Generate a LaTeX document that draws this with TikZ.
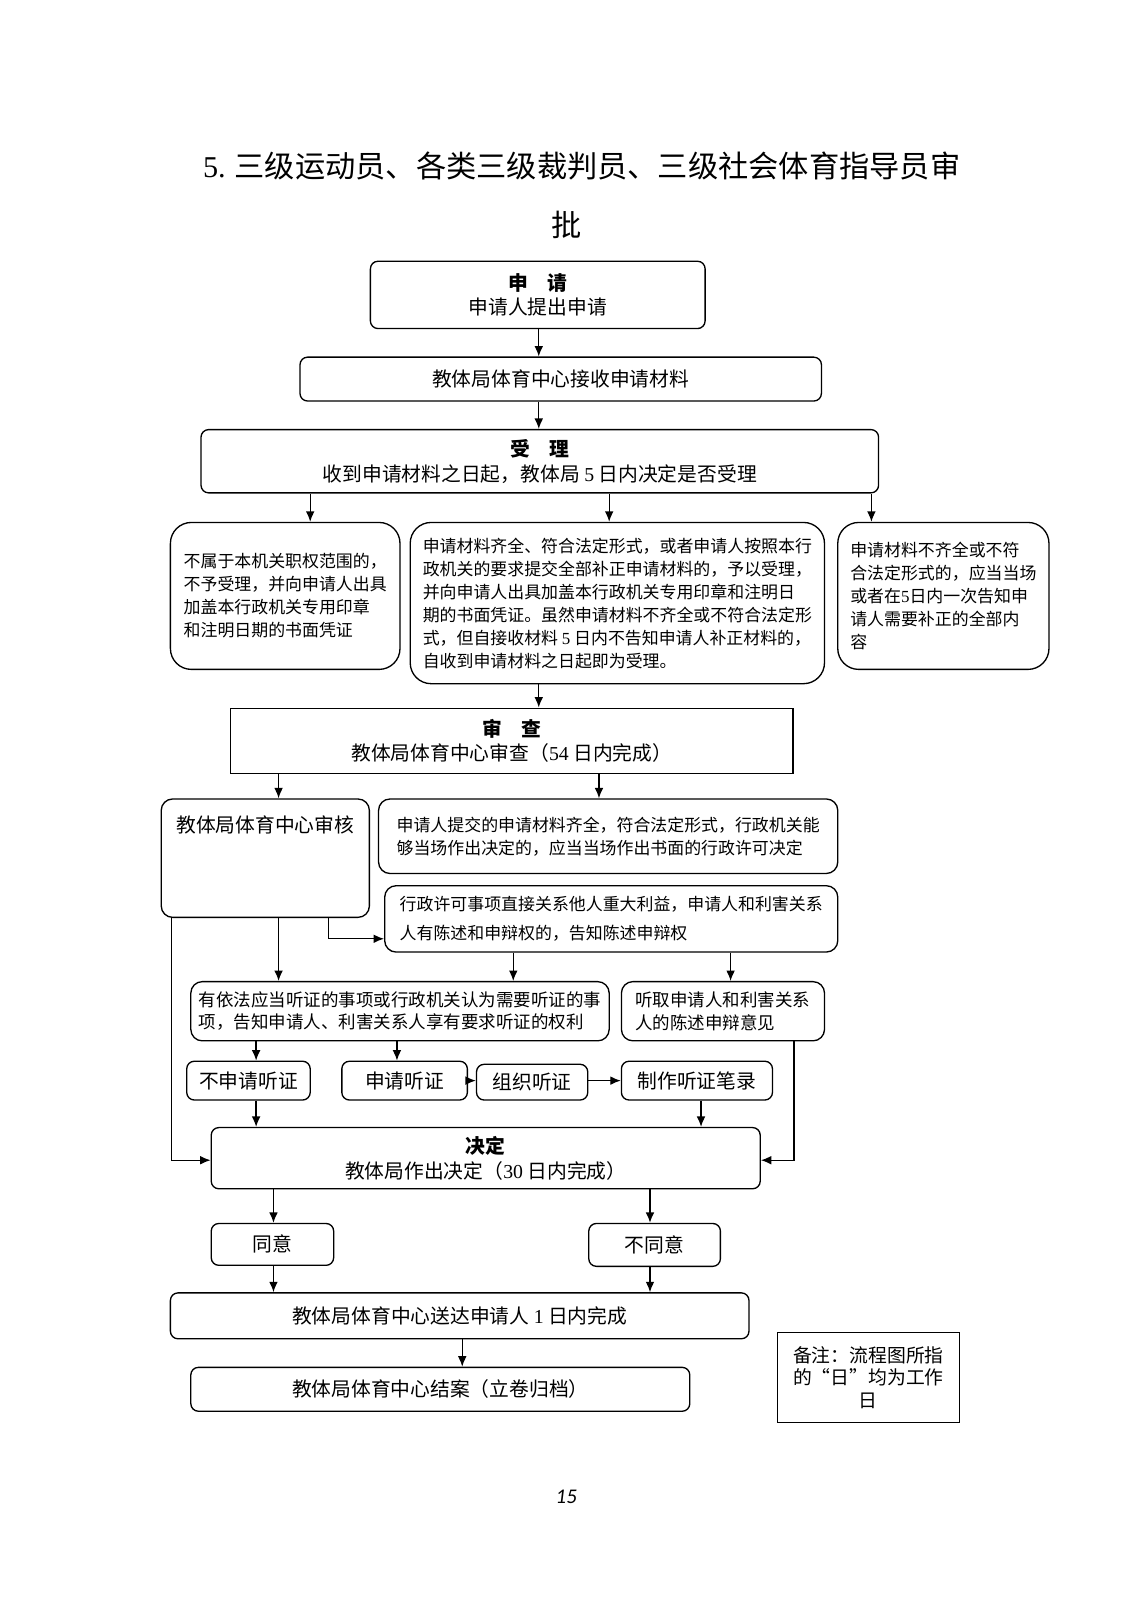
\documentclass[tikz,border=0pt]{standalone}
\usepackage{fontspec}
\setmainfont{Noto Sans CJK SC}
\newfontfamily\lat{Liberation Serif}
\newfontfamily\pgnum{Carlito}
\usetikzlibrary{arrows.meta,fit}
\newcommand{\fmain}{\fontsize{10.4}{13}\selectfont}
\newcommand{\fsmall}{\fontsize{8.9}{12.1}\selectfont}
\begin{document}
\begin{tikzpicture}[x=0.5367pt, y=-0.5367pt,
  rbox/.style = {draw, line width=0.7pt, rounded corners=4pt, inner sep=0pt},
  rbig/.style = {draw, line width=0.7pt, rounded corners=11pt, inner sep=0pt},
  sbox/.style = {draw, line width=0.7pt, inner sep=0pt},
  txt/.style = {inner sep=0pt, font=\fmain, align=center},
  stxt/.style = {inner sep=0pt, font=\fsmall, align=left},
  arr/.style = {line width=0.7pt, -{Latex[length=5.5pt,width=4.6pt]}}]
\useasboundingbox (0,0) rectangle (1108.4,1568);

% title
\node (title) at (570,163) {\fontsize{15.9}{18}\selectfont{\lat 5.} 三级运动员、各类三级裁判员、三级社会体育指导员审};
\node (title2) at (555,220) {\fontsize{15.9}{18}\selectfont 批};

% apply, receive, accept
\node[rbox, fit={(363,256) (691,322)}] (apply) {};
\node[txt] (applyt) at (apply) {{\bfseries 申　请}\\申请人提出申请};
\node[rbox, fit={(294,350) (805,393)}] (recv) {};
\node[txt] (recvt) at (recv) {教体局体育中心接收申请材料};
\node[rbox, fit={(197,421) (861,483)}] (accept) {};
\node[txt] (acceptt) at (accept) {{\bfseries 受　理}\\收到申请材料之日起，教体局 {\lat 5} 日内决定是否受理};

\node[rbig, fit={(167,512) (392,656)}] (refuse) {};
\node[stxt] (refuset) at (refuse) {不属于本机关职权范围的，\\不予受理，并向申请人出具\\加盖本行政机关专用印章\\和注明日期的书面凭证};
\node[rbig, fit={(402,512) (808,670)}] (take) {};
\node[stxt] (taket) at (take) {申请材料齐全、符合法定形式，或者申请人按照本行\\政机关的要求提交全部补正申请材料的，予以受理，\\并向申请人出具加盖本行政机关专用印章和注明日\\期的书面凭证。虽然申请材料不齐全或不符合法定形\\式，但自接收材料 {\lat 5} 日内不告知申请人补正材料的，\\自收到申请材料之日起即为受理。};
\node[rbig, fit={(821,512) (1028,656)}] (amend) {};
\node[stxt] (amendt) at (amend) {申请材料不齐全或不符\\合法定形式的，应当当场\\或者在{\lat 5}日内一次告知申\\请人需要补正的全部内\\容};

% review
\node[sbox, fit={(226,694) (777,758)}] (review) {};
\node[txt] (reviewt) at (review) {{\bfseries 审　查}\\教体局体育中心审查（{\lat 54} 日内完成）};
\node[rbox, rounded corners=6pt, fit={(158,783) (362,899)}] (check) {};
\node[txt] (checkt) at (260,808) {教体局体育中心审核};
\node[rbox, rounded corners=6pt, fit={(371,783) (821,856)}] (spot) {};
\node[stxt] (spott) at (spot) {申请人提交的申请材料齐全，符合法定形式，行政机关能\\够当场作出决定的，应当当场作出书面的行政许可决定};
\node[rbox, rounded corners=6pt, fit={(377,868) (821,933)}] (plead) {};
\node[stxt, font=\fontsize{8.9}{15.6}\selectfont] (pleadt) at (plead) {行政许可事项直接关系他人重大利益，申请人和利害关系\\人有陈述和申辩权的，告知陈述申辩权};

% hearing
\node[rbox, rounded corners=6pt, fit={(187,962) (597,1020)}] (hear) {};
\node[stxt, font=\fontsize{9.2}{11.4}\selectfont] (heart) at (hear) {有依法应当听证的事项或行政机关认为需要听证的事\\项，告知申请人、利害关系人享有要求听证的权利};
\node[rbox, rounded corners=6pt, fit={(609,962) (808,1020)}] (listen) {};
\node[stxt, font=\fontsize{9.2}{11.8}\selectfont] (listent) at (listen) {听取申请人和利害关系\\人的陈述申辩意见};
\node[rbox, fit={(183,1040) (304,1078)}] (nohear) {};
\node[txt] (noheart) at (nohear) {不申请听证};
\node[rbox, fit={(335,1040) (458,1078)}] (askhear) {};
\node[txt] (askheart) at (askhear) {申请听证};
\node[rbox, fit={(467,1043) (576,1078)}] (orghear) {};
\node[txt] (orgheart) at (orghear) {组织听证};
\node[rbox, fit={(609,1040) (757,1078)}] (record) {};
\node[txt] (recordt) at (record) {制作听证笔录};

% decision
\node[rbox, fit={(207,1105) (745,1165)}] (decide) {};
\node[txt] (decidet) at (decide) {{\bfseries 决定}\\教体局作出决定（{\lat 30} 日内完成）};
\node[rbox, fit={(207,1199) (327,1240)}] (agree) {};
\node[txt] (agreet) at (agree) {同意};
\node[rbox, fit={(577,1199) (706,1241)}] (disagree) {};
\node[txt] (disagreet) at (disagree) {不同意};
\node[rbox, fit={(167,1267) (734,1312)}] (deliver) {};
\node[txt] (delivert) at (deliver) {教体局体育中心送达申请人 {\lat 1} 日内完成};
\node[rbox, fit={(187,1340) (676,1383)}] (close) {};
\node[txt] (closet) at (close) {教体局体育中心结案（立卷归档）};
\node[sbox, fit={(762,1306) (940,1394)}] (note) {};
\node[txt, font=\fontsize{9.9}{11.9}\selectfont] (notet) at (note) {备注：流程图所指\\的“日”均为工作\\日};

\node[font=\pgnum\itshape\fontsize{11}{13}\selectfont] (page) at (555,1467) {15};

% arrows
\draw[arr] (apply.south -| 528,0) -- (recv.north -| 528,0);
\draw[arr] (recv.south -| 528,0) -- (accept.north -| 528,0);
\draw[arr] (accept.south -| 304,0) -- (refuse.north -| 304,0);
\draw[arr] (accept.south -| 597,0) -- (take.north -| 597,0);
\draw[arr] (accept.south -| 854,0) -- (amend.north -| 854,0);
\draw[arr] (take.south -| 528,0) -- (review.north -| 528,0);
\draw[arr] (review.south -| 273,0) -- (check.north -| 273,0);
\draw[arr] (review.south -| 587,0) -- (spot.north -| 587,0);
\draw[arr] (check.south -| 322,0) |- (plead.west |- 0,920);
\draw[arr] (check.south -| 273,0) -- (hear.north -| 273,0);
\draw[arr] (check.south -| 168,0) |- (decide.west |- 0,1137);
\draw[arr] (plead.south -| 503,0) -- (hear.north -| 503,0);
\draw[arr] (plead.south -| 716,0) -- (listen.north -| 716,0);
\draw[arr] (hear.south -| 251,0) -- (nohear.north -| 251,0);
\draw[arr] (hear.south -| 389,0) -- (askhear.north -| 389,0);
\draw[arr] (askhear.east) -- (orghear.west |- askhear.east);
\draw[arr] (orghear.east |- askhear.east) -- (record.west |- askhear.east);
\draw[arr] (nohear.south -| 251,0) -- (decide.north -| 251,0);
\draw[arr] (record.south -| 687,0) -- (decide.north -| 687,0);
\draw[arr] (listen.south -| 778,0) |- (decide.east |- 0,1137);
\draw[arr] (decide.south -| 268,0) -- (agree.north -| 268,0);
\draw[arr] (decide.south -| 637,0) -- (disagree.north -| 637,0);
\draw[arr] (agree.south -| 268,0) -- (deliver.north -| 268,0);
\draw[arr] (disagree.south -| 637,0) -- (deliver.north -| 637,0);
\draw[arr] (deliver.south -| 453,0) -- (close.north -| 453,0);
\end{tikzpicture}
\end{document}
